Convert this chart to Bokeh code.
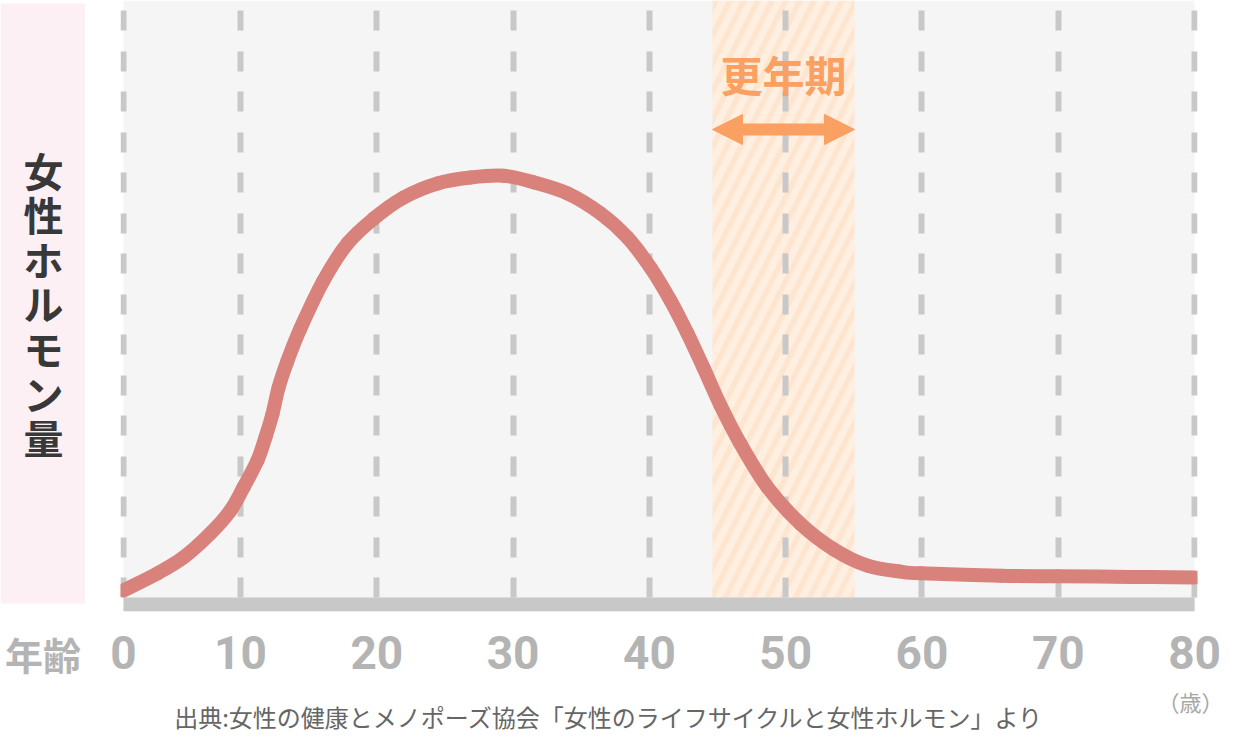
from bokeh.plotting import figure
from bokeh.layouts import row, column
from bokeh.models import (Range1d, FixedTicker, BoxAnnotation, Label, Arrow, NormalHead)
from bokeh.embed import file_html
from bokeh.resources import INLINE

# ---------------- data ----------------
AGES = [1.42, 3.91, 5.82, 7.80, 9.27, 10.22, 11.25, 11.83, 12.35, 12.79, 13.45,
        14.40, 16.09, 17.85, 19.76, 21.96, 24.45, 26.87, 29.30, 31.50, 33.99,
        36.41, 38.39, 40.08, 41.55, 42.80, 43.97, 45.22, 46.68, 48.67, 51.09,
        53.51, 56.00, 58.42, 59.89, 65.76, 69.94, 75.30, 80.00]
HORMONE = [1.2, 4.1, 6.8, 10.9, 14.8, 18.7, 23.3, 27.2, 31.2, 35.6, 40.2,
           45.7, 53.8, 60.1, 64.3, 67.9, 70.3, 71.3, 71.6, 70.5, 68.6,
           65.2, 61.1, 56.0, 50.4, 44.8, 39.0, 32.6, 26.1, 18.7, 12.5,
           8.2, 5.4, 4.4, 4.1, 3.7, 3.6, 3.5, 3.4]
TICK_LABELS = ["0", "10", "20", "30", "40", "50", "60", "70", "80"]
TICK_AGES = [1.4163, 10, 20, 30, 40, 50, 60, 70, 80]
MENOPAUSE = (44.63, 55.05)
MENOPAUSE_LABEL = "更年期"
Y_LABEL = "女性ホルモン量"
X_LABEL = "年齢"
UNIT_LABEL = "（歳）"
SOURCE = "出典:女性の健康とメノポーズ協会「女性のライフサイクルと女性ホルモン」より"

# ---------------- layout helpers (reference pixels -> data) ----------------
X0 = TICK_AGES[0]
XS = 13.63          # px per year
YS = 5.89           # px per hormone unit


def sx(px):
    return X0 + (px - 123) / XS


def sy(py):
    return 100 - (py - 8) / YS


ORANGE = "#f9a062"
CURVE = "#d9827c"
GRID = "#c8c8c8"
TICK_GRAY = "#b4b4b4"
JP = "Noto Sans CJK JP"
LEFT_W = 85

# ---------------- left panel ----------------
left = figure(width=LEFT_W, height=683, x_range=Range1d(0, LEFT_W), y_range=Range1d(611, 0),
              output_backend="svg", toolbar_location=None, y_axis_location=None,
              min_border_left=0, min_border_right=0, min_border_top=0, min_border_bottom=72,
              background_fill_color="white", border_fill_color="white",
              outline_line_color=None)
left.grid.visible = False
left.xaxis.ticker = FixedTicker(ticks=[])
left.xaxis.axis_line_color = None
left.xaxis.major_tick_line_color = None
left.xaxis.minor_tick_line_color = None
left.xaxis.major_label_standoff = 0
left.xaxis.axis_label = X_LABEL
left.xaxis.axis_label_standoff = 14
left.xaxis.axis_label_text_font = JP
left.xaxis.axis_label_text_font_style = "bold"
left.xaxis.axis_label_text_font_size = "38px"
left.xaxis.axis_label_text_color = TICK_GRAY
left.add_layout(BoxAnnotation(left=0, right=85, top=3, bottom=603,
                              fill_color="#fcf0f5", fill_alpha=1, line_color=None))
left.add_layout(Label(x=43, y=303, text="\n".join(Y_LABEL), text_align="center",
                      text_baseline="middle", text_font=JP, text_font_style="bold",
                      text_font_size="40px", text_color="#383838", text_line_height=0.77))

# ---------------- main chart ----------------
p = figure(width=1226 - LEFT_W, height=683, x_range=Range1d(sx(120), sx(1197)),
           y_range=Range1d(sy(611), sy(0)),
           output_backend="svg", toolbar_location=None, y_axis_location=None,
           min_border_left=120 - LEFT_W, min_border_right=29, min_border_top=0,
           min_border_bottom=72,
           background_fill_color="white", border_fill_color="white",
           outline_line_color=None)

ticker = FixedTicker(ticks=TICK_AGES)
p.xaxis.ticker = ticker
p.xaxis.major_label_overrides = {t: l for t, l in zip(TICK_AGES, TICK_LABELS)}
p.xaxis.axis_line_color = None
p.xaxis.major_tick_line_color = None
p.xaxis.minor_tick_line_color = None
p.xaxis.major_label_standoff = 18
p.xaxis.major_label_text_font = "Roboto"
p.xaxis.major_label_text_font_style = "bold"
p.xaxis.major_label_text_font_size = "46px"
p.xaxis.major_label_text_color = TICK_GRAY

p.ygrid.visible = False
p.xgrid.ticker = ticker
p.xgrid.grid_line_color = GRID
p.xgrid.grid_line_width = 6
p.xgrid.grid_line_dash = "20 20 20 21"
p.xgrid.grid_line_dash_offset = 67

# grey plotting area
p.add_layout(BoxAnnotation(left=X0, right=80, fill_color="#f5f5f5", fill_alpha=1,
                           line_color=None, level="image"))
# menopause band
p.add_layout(BoxAnnotation(left=MENOPAUSE[0], right=MENOPAUSE[1], bottom=0,
                           fill_color="#fde5cf", fill_alpha=1, line_color=None,
                           hatch_pattern="/", hatch_color="white", hatch_alpha=0.38,
                           hatch_scale=28, hatch_weight=7, level="image"))
# baseline bar
p.add_layout(BoxAnnotation(left=X0, right=80, top=0, fill_color=GRID, fill_alpha=1,
                           line_color=None, level="underlay"))

# smooth curve through the read points (Catmull-Rom -> cubic Bezier segments)
n = len(AGES)
x0, y0, x1, y1, cx0, cy0, cx1, cy1 = ([] for _ in range(8))
for i in range(n - 1):
    a = max(i - 1, 0)
    d = min(i + 2, n - 1)
    x0.append(AGES[i]); y0.append(HORMONE[i])
    x1.append(AGES[i + 1]); y1.append(HORMONE[i + 1])
    cx0.append(AGES[i] + (AGES[i + 1] - AGES[a]) / 6)
    cy0.append(HORMONE[i] + (HORMONE[i + 1] - HORMONE[a]) / 6)
    cx1.append(AGES[i + 1] - (AGES[d] - AGES[i]) / 6)
    cy1.append(HORMONE[i + 1] - (HORMONE[d] - HORMONE[i]) / 6)
p.bezier(x0=x0, y0=y0, x1=x1, y1=y1, cx0=cx0, cy0=cy0, cx1=cx1, cy1=cy1,
         line_color=CURVE, line_width=14, line_cap="round")

# arrow + label
mid = (MENOPAUSE[0] + MENOPAUSE[1]) / 2
p.add_layout(Arrow(start=NormalHead(size=30, fill_color=ORANGE, line_color=ORANGE),
                   end=NormalHead(size=30, fill_color=ORANGE, line_color=ORANGE),
                   x_start=MENOPAUSE[0], x_end=MENOPAUSE[1], y_start=sy(129), y_end=sy(129),
                   line_color=ORANGE, line_width=12))
p.add_layout(Label(x=mid, y=sy(73), text=MENOPAUSE_LABEL, text_align="center",
                   text_baseline="middle", text_font=JP, text_font_style="bold",
                   text_font_size="42px", text_color=ORANGE))

# ---------------- bottom strip ----------------
bottom = figure(width=1226, height=50, x_range=Range1d(0, 1226), y_range=Range1d(733, 683),
                output_backend="svg", toolbar_location=None,
                x_axis_location=None, y_axis_location=None, min_border=0,
                background_fill_color="white", border_fill_color="white",
                outline_line_color=None)
bottom.grid.visible = False
bottom.add_layout(Label(x=1190, y=700, text=UNIT_LABEL, text_align="center",
                        text_baseline="middle", text_font=JP,
                        text_font_size="22px", text_color="#a8a8a8"))
bottom.add_layout(Label(x=609, y=716, text=SOURCE, text_align="center",
                        text_baseline="middle", text_font=JP,
                        text_font_size="24px", text_color="#666666"))

layout = column(row(left, p, spacing=0), bottom, spacing=0)
open("out.html", "w").write(file_html(layout, INLINE))
